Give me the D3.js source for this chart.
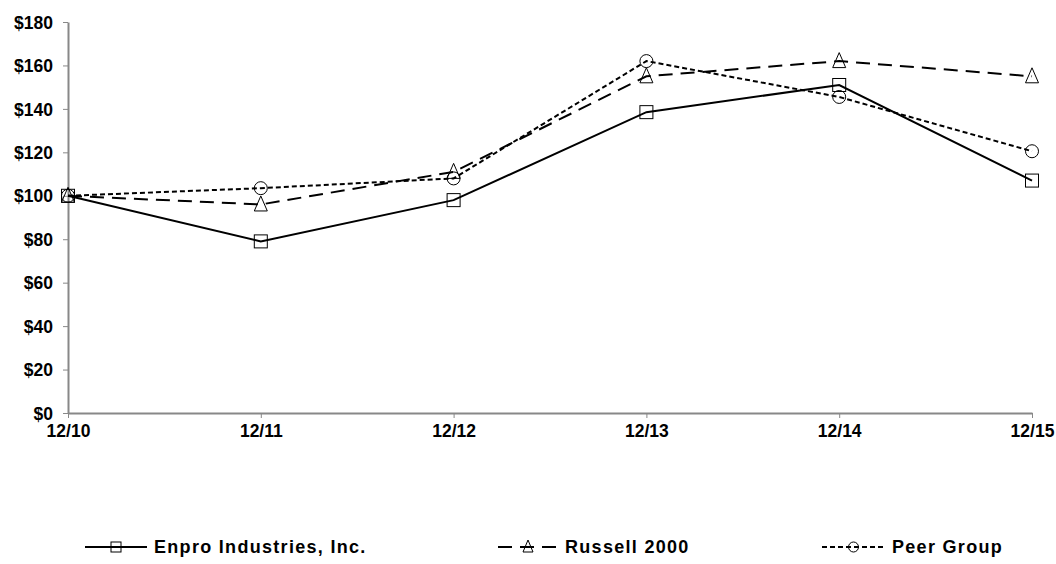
<!DOCTYPE html>
<html>
<head>
<meta charset="utf-8">
<script src="https://cdn.jsdelivr.net/npm/d3@7"></script>
<style>
  body { margin: 0; background: #fff; }
  text { font-family: "Liberation Sans", Arial, sans-serif; font-weight: bold; font-size: 17.5px; fill: #000; }
</style>
</head>
<body>
<div id="container"></div>
<script>
// data
const periods = ["12/10", "12/11", "12/12", "12/13", "12/14", "12/15"];
const enpro = [100, 79, 98, 138.5, 151, 107];
const russell = [100, 96, 111, 155, 162, 155];
const peer = [100, 103.5, 108, 162, 145.5, 120.5];
const yTicks = [0, 20, 40, 60, 80, 100, 120, 140, 160, 180];

const width = 1056, height = 564;
const margin = { top: 22, right: 24, bottom: 151, left: 68 };

const series = [
  { name: "Enpro Industries, Inc.", values: enpro, dash: null, marker: "square", lx: 85, lw: 62 },
  { name: "Russell 2000", values: russell, dash: "14,8", marker: "triangle", lx: 498, lw: 60 },
  { name: "Peer Group", values: peer, dash: "5,3", marker: "circle", lx: 822, lw: 63 }
];

const svg = d3.select("#container").append("svg")
  .attr("width", width).attr("height", height);

const x = d3.scalePoint().domain(periods).range([margin.left, width - margin.right]);
const y = d3.scaleLinear().domain([0, 180]).range([height - margin.bottom, margin.top]);

// axes
const xAxis = svg.append("g")
  .attr("transform", `translate(0,${y(0)})`)
  .call(d3.axisBottom(x).tickSize(5).tickSizeOuter(0).tickPadding(7));
const yAxis = svg.append("g")
  .attr("transform", `translate(${margin.left},0)`)
  .call(d3.axisLeft(y).tickValues(yTicks).tickFormat(d => "$" + d).tickSize(5).tickSizeOuter(0).tickPadding(10));
[xAxis, yAxis].forEach(a => {
  a.attr("font-size", null).attr("font-family", null);
  a.select(".domain").attr("stroke", "#888").attr("stroke-width", 2);
  a.selectAll(".tick line").attr("stroke", "#888").attr("stroke-width", 1);
});
yAxis.selectAll("text").attr("dy", "0.35em");

function drawMarker(g, type, cx, cy, s) {
  if (type === "square") {
    g.append("rect").attr("x", cx - s / 2).attr("y", cy - s / 2)
      .attr("width", s).attr("height", s)
      .attr("fill", "none").attr("stroke", "#000").attr("stroke-width", 1);
  } else if (type === "triangle") {
    g.append("path")
      .attr("d", `M${cx},${cy - s / 2 - 2}L${cx + s / 2},${cy + s / 2}L${cx - s / 2},${cy + s / 2}Z`)
      .attr("fill", "none").attr("stroke", "#000").attr("stroke-width", 1);
  } else {
    g.append("circle").attr("cx", cx).attr("cy", cy).attr("r", s / 2)
      .attr("fill", "none").attr("stroke", "#000").attr("stroke-width", 1);
  }
}

const line = d3.line().x((d, i) => x(periods[i])).y(d => y(d));

series.forEach(s => {
  svg.append("path").datum(s.values)
    .attr("d", line)
    .attr("fill", "none")
    .attr("stroke", "#000")
    .attr("stroke-width", 2)
    .attr("stroke-dasharray", s.dash);
  const g = svg.append("g");
  s.values.forEach((v, i) => drawMarker(g, s.marker, x(periods[i]), y(v), 13));
});

// legend
const ly = 547;
series.forEach(s => {
  const g = svg.append("g");
  g.append("line")
    .attr("x1", s.lx).attr("x2", s.lx + s.lw)
    .attr("y1", ly).attr("y2", ly)
    .attr("stroke", "#000").attr("stroke-width", 2)
    .attr("stroke-dasharray", s.dash);
  drawMarker(g, s.marker, s.lx + s.lw / 2, ly, 10);
  g.append("text").attr("x", s.lx + s.lw + 7).attr("y", ly).attr("dy", "0.35em")
    .style("font-size", "18px").style("letter-spacing", "1.3px").text(s.name);
});
</script>
</body>
</html>
